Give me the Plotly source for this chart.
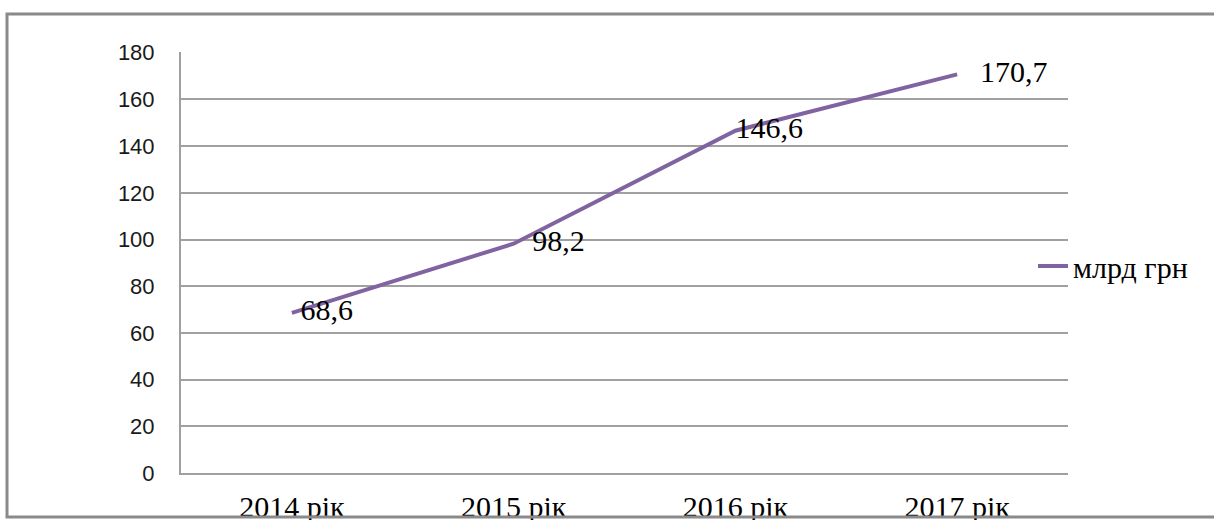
import plotly.graph_objects as go

categories = ["2014 рік", "2015 рік", "2016 рік", "2017 рік"]
values = [68.6, 98.2, 146.6, 170.7]
labels = ["68,6", "98,2", "146,6", "170,7"]
series_name = "млрд грн"

W, H = 1214, 520
L, R, T, B = 181, 1068, 52, 473
pw, ph = R - L, B - T
SERIF = "Liberation Serif"
label_gap = [12, 28, 0, 35]  # invisible marker sizes -> label offsets

def px(x):
    return (x - L) / pw

def py(y):
    return (B - y) / ph

fig = go.Figure()
fig.add_trace(go.Scatter(
    x=categories, y=values, mode="lines", name=series_name,
    line=dict(color="#8064A2", width=4),
    cliponaxis=False,
))
fig.add_trace(go.Scatter(
    x=categories, y=values, mode="markers+text", showlegend=False,
    marker=dict(size=label_gap, opacity=0),
    text=labels, textposition="middle right",
    textfont=dict(family=SERIF, size=30, color="#000000"),
    cliponaxis=False, hoverinfo="skip",
))

fig.update_layout(
    width=W, height=H,
    margin=dict(l=L, r=W - R, t=T, b=H - B, autoexpand=False),
    paper_bgcolor="white", plot_bgcolor="white",
    showlegend=True,
    legend=dict(x=px(1033), y=py(266), xanchor="left", yanchor="middle",
                font=dict(family=SERIF, size=30, color="#000000"),
                bgcolor="rgba(0,0,0,0)", borderwidth=0, itemwidth=30),
    xaxis=dict(type="category", range=[-0.5, 3.5], showgrid=False,
               showline=True, linecolor="#A0A0A0", linewidth=2,
               ticks="", ticklabelstandoff=6, automargin=False,
               tickfont=dict(family=SERIF, size=30, color="#000000")),
    yaxis=dict(range=[0, 180.3], tickvals=[0, 20, 40, 60, 80, 100, 120, 140, 160, 180],
               showgrid=True, gridcolor="#A0A0A0",
               gridwidth=2, zeroline=False, showline=True, linecolor="#A0A0A0",
               linewidth=2, ticks="", ticklabelstandoff=20, automargin=False,
               tickfont=dict(family="Liberation Sans", size=22, color="#1a1a1a")),
    shapes=[dict(type="rect", xref="paper", yref="paper",
                 x0=px(7), x1=px(1240), y0=py(517), y1=py(14),
                 line=dict(color="#8a8a8a", width=3), fillcolor="rgba(0,0,0,0)",
                 layer="above")],
)

fig.write_html("out.html")
